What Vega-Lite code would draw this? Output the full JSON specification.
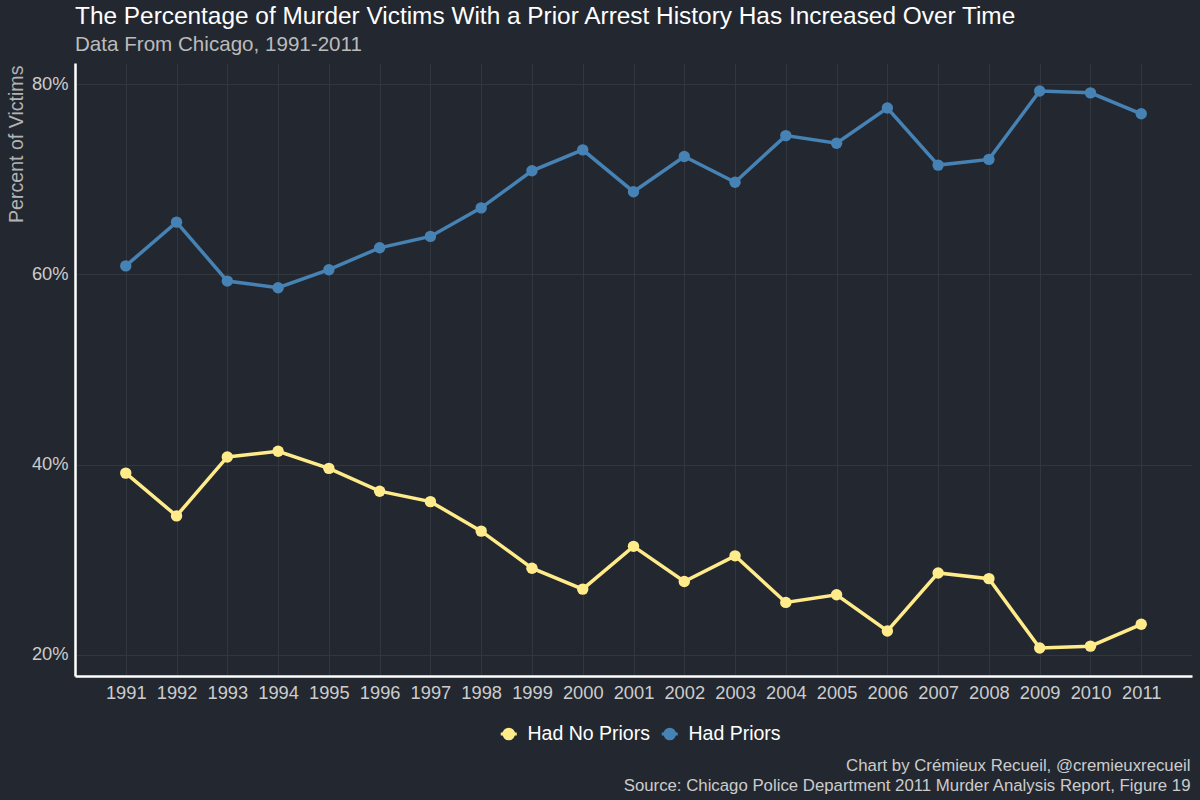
{
  "$schema": "https://vega.github.io/schema/vega-lite/v6.json",
  "width": 1117,
  "height": 613,
  "autosize": {"type": "none"},
  "padding": {"left": 75, "top": 63, "right": 8, "bottom": 124},
  "background": "#232830",
  "title": {
    "text": "The Percentage of Murder Victims With a Prior Arrest History Has Increased Over Time",
    "subtitle": "Data From Chicago, 1991-2011",
    "anchor": "start",
    "frame": "group",
    "fontSize": 24.4,
    "fontWeight": "normal",
    "color": "#ffffff",
    "subtitleFontSize": 20.6,
    "subtitleColor": "#bbbbbb",
    "subtitlePadding": 6,
    "offset": 6
  },
  "data": {
    "values": [
      {"year": 1991, "group": "Had Priors", "pct": 60.9},
      {"year": 1992, "group": "Had Priors", "pct": 65.5},
      {"year": 1993, "group": "Had Priors", "pct": 59.3},
      {"year": 1994, "group": "Had Priors", "pct": 58.6},
      {"year": 1995, "group": "Had Priors", "pct": 60.5},
      {"year": 1996, "group": "Had Priors", "pct": 62.8},
      {"year": 1997, "group": "Had Priors", "pct": 64.0},
      {"year": 1998, "group": "Had Priors", "pct": 67.0},
      {"year": 1999, "group": "Had Priors", "pct": 70.9},
      {"year": 2000, "group": "Had Priors", "pct": 73.1},
      {"year": 2001, "group": "Had Priors", "pct": 68.7},
      {"year": 2002, "group": "Had Priors", "pct": 72.4},
      {"year": 2003, "group": "Had Priors", "pct": 69.7},
      {"year": 2004, "group": "Had Priors", "pct": 74.6},
      {"year": 2005, "group": "Had Priors", "pct": 73.8},
      {"year": 2006, "group": "Had Priors", "pct": 77.5},
      {"year": 2007, "group": "Had Priors", "pct": 71.5},
      {"year": 2008, "group": "Had Priors", "pct": 72.1},
      {"year": 2009, "group": "Had Priors", "pct": 79.3},
      {"year": 2010, "group": "Had Priors", "pct": 79.1},
      {"year": 2011, "group": "Had Priors", "pct": 76.9},
      {"year": 1991, "group": "Had No Priors", "pct": 39.1},
      {"year": 1992, "group": "Had No Priors", "pct": 34.6},
      {"year": 1993, "group": "Had No Priors", "pct": 40.8},
      {"year": 1994, "group": "Had No Priors", "pct": 41.4},
      {"year": 1995, "group": "Had No Priors", "pct": 39.6},
      {"year": 1996, "group": "Had No Priors", "pct": 37.2},
      {"year": 1997, "group": "Had No Priors", "pct": 36.1},
      {"year": 1998, "group": "Had No Priors", "pct": 33.0},
      {"year": 1999, "group": "Had No Priors", "pct": 29.1},
      {"year": 2000, "group": "Had No Priors", "pct": 26.9},
      {"year": 2001, "group": "Had No Priors", "pct": 31.4},
      {"year": 2002, "group": "Had No Priors", "pct": 27.7},
      {"year": 2003, "group": "Had No Priors", "pct": 30.4},
      {"year": 2004, "group": "Had No Priors", "pct": 25.5},
      {"year": 2005, "group": "Had No Priors", "pct": 26.3},
      {"year": 2006, "group": "Had No Priors", "pct": 22.5},
      {"year": 2007, "group": "Had No Priors", "pct": 28.6},
      {"year": 2008, "group": "Had No Priors", "pct": 28.0},
      {"year": 2009, "group": "Had No Priors", "pct": 20.7},
      {"year": 2010, "group": "Had No Priors", "pct": 20.9},
      {"year": 2011, "group": "Had No Priors", "pct": 23.2}
    ]
  },
  "encoding": {
    "x": {
      "field": "year",
      "type": "quantitative",
      "scale": {"domain": [1990, 2012], "nice": false, "zero": false},
      "axis": {
        "values": [1991, 1992, 1993, 1994, 1995, 1996, 1997, 1998, 1999, 2000, 2001, 2002, 2003, 2004, 2005, 2006, 2007, 2008, 2009, 2010, 2011],
        "format": "d",
        "labelFontSize": 18.3,
        "labelColor": "#cccccc",
        "labelPadding": 8,
        "labelOverlap": false,
        "labelFlush": false,
        "ticks": false,
        "domainColor": "#ffffff",
        "domainWidth": 2.5,
        "gridColor": "#32363f",
        "title": ["Chart by Crémieux Recueil, @cremieuxrecueil", "Source: Chicago Police Department 2011 Murder Analysis Report, Figure 19"],
        "titleAnchor": "end",
        "titleAlign": "right",
        "titleBaseline": "alphabetic",
        "titleX": 1115,
        "titleY": 94,
        "titleLineHeight": 20,
        "titleFontSize": 16.8,
        "titleFontWeight": "normal",
        "titleColor": "#cccccc"
      }
    },
    "y": {
      "field": "pct",
      "type": "quantitative",
      "scale": {"domain": [17.76, 82.24], "nice": false, "zero": false},
      "axis": {
        "values": [20, 40, 60, 80],
        "labelExpr": "datum.value + '%'",
        "labelFontSize": 18.3,
        "labelColor": "#cccccc",
        "labelPadding": 7,
        "ticks": false,
        "domainColor": "#ffffff",
        "domainWidth": 2.5,
        "gridColor": "#32363f",
        "title": "Percent of Victims",
        "titleAnchor": "end",
        "titleFontSize": 19.6,
        "titleFontWeight": "normal",
        "titleColor": "#b3b3b3",
        "titlePadding": 5,
        "titleY": 2
      }
    },
    "color": {
      "field": "group",
      "type": "nominal",
      "scale": {"domain": ["Had No Priors", "Had Priors"], "range": ["#ffeb8a", "#4682b4"]},
      "legend": {
        "orient": "none",
        "legendX": 424,
        "legendY": 661,
        "direction": "horizontal",
        "title": null,
        "labelFontSize": 19.5,
        "labelColor": "#ffffff",
        "labelOffset": 9,
        "columnPadding": 5,
        "symbolType": "M-1,0H1M0.6,0A0.6,0.6,0,1,1,-0.6,0A0.6,0.6,0,1,1,0.6,0Z",
        "symbolSize": 256,
        "symbolStrokeWidth": 3,
        "symbolOpacity": 1,
        "encode": {
          "symbols": {
            "update": {
              "stroke": {"scale": "color", "field": "value"},
              "fill": {"scale": "color", "field": "value"}
            }
          }
        }
      }
    }
  },
  "layer": [
    {"mark": {"type": "line", "strokeWidth": 3.5}},
    {"mark": {"type": "point", "filled": true, "size": 130, "opacity": 1}}
  ],
  "config": {
    "font": "Liberation Sans",
    "view": {"stroke": null}
  }
}
